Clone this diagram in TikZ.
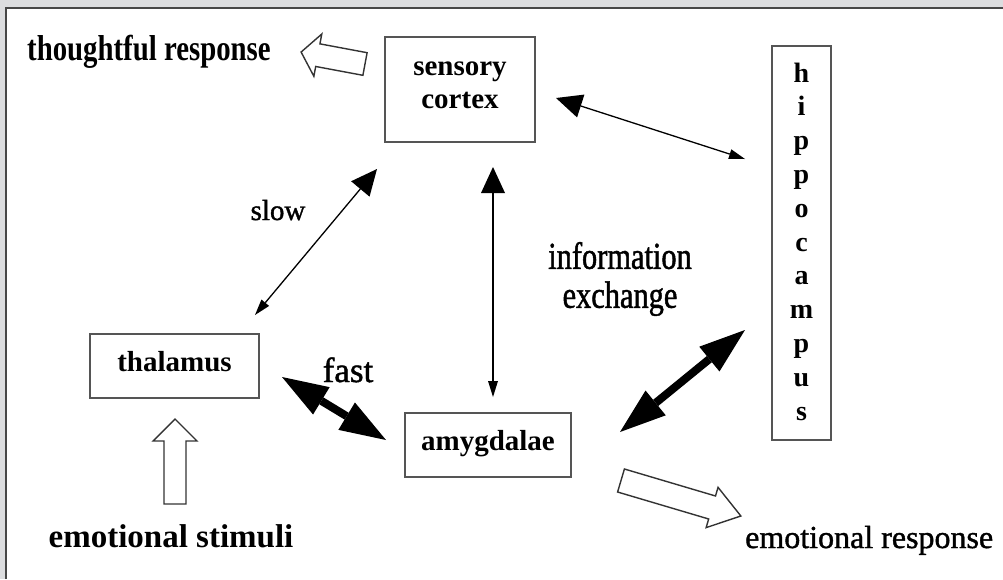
\documentclass[tikz,border=0pt]{standalone}
\usepackage{fontspec}
\setmainfont{Liberation Serif}
\newfontfamily\condserif[FakeStretch=0.8]{Liberation Serif}
\newfontfamily\heavyserif[FakeBold=1.2]{Liberation Serif}
\newfontfamily\heavycond[FakeStretch=0.8,FakeBold=1.2]{Liberation Serif}
\usetikzlibrary{arrows.meta}

\definecolor{framegray}{HTML}{DCDDDF}
\definecolor{frameline}{HTML}{474747}
\definecolor{boxline}{HTML}{555555}

\tikzset{
  box/.style={draw=boxline, line width=1.6pt, align=center, text depth=9pt,
    font=\bfseries\fontsize{29}{33}\selectfont},
  letter/.style={anchor=base, inner sep=0pt, font=\bfseries\fontsize{28}{30}\selectfont},
  tag/.style={inner sep=0pt, anchor=base},
  thinlink/.style={line width=1.3pt,
    {Triangle[length=16pt,width=10pt,line width=0pt]}-{Triangle[length=26pt,width=24pt,line width=0pt]}},
  boldlink/.style={line width=8pt,
    {Triangle[length=46pt,width=32pt,line width=0pt]}-{Triangle[length=46pt,width=32pt,line width=0pt]}},
  hollow/.style={draw=black!80, fill=white, line width=1.4pt, line join=miter}
}

% hollow block arrow: tail, angle, length, head length, head half width, shaft half width
\newcommand{\blockarrow}[6]{
  \begin{scope}[shift={#1}, rotate=#2]
    \draw[hollow] (0,-#6) -- ({#3-#4},-#6) -- ({#3-#4},-#5) -- (#3,0)
      -- ({#3-#4},#5) -- ({#3-#4},#6) -- (0,#6) -- cycle;
  \end{scope}
}

\begin{document}
\begin{tikzpicture}[x=1pt, y=-1pt]
  \useasboundingbox (0,0) rectangle (1003,579);
  % frame
  \fill[framegray] (0,0) rectangle (1003,579);
  \fill[white] (6,7.5) rectangle (1003,579);
  \draw[frameline, line width=2pt] (6,579) -- (6,7.5) -- (1003,7.5);

  % boxes
  \node[box, minimum width=150pt, minimum height=105pt] (cortex) at (460,89.5) {sensory\\cortex};
  \node[box, minimum width=169pt, minimum height=64pt] (thalamus) at (174.5,366) {thalamus};
  \node[box, minimum width=166pt, minimum height=64pt] (amygdalae) at (488,445) {amygdalae};
  \node[box, minimum width=59pt, minimum height=394pt] (hippocampus) at (801.5,243) {};
  \foreach \ch [count=\i] in {h,i,p,p,o,c,a,m,p,u,s}
    \node[letter] (hippo\i) at (801.5,{82+33.8*(\i-1)}) {\ch};

  % labels
  \node[tag, anchor=base west, font=\condserif\bfseries\fontsize{36}{40}\selectfont] (thoughtful) at (27,60) {thoughtful response};
  \node[tag, font=\bfseries\fontsize{33}{36}\selectfont] (stimuli) at (171,547) {emotional stimuli};
  \node[tag, anchor=base west, font=\heavyserif\fontsize{32}{36}\selectfont] (response) at (745,548) {emotional response};
  \node[tag, font=\heavyserif\fontsize{29}{32}\selectfont] (slow) at (278,220) {slow};
  \node[tag, font=\heavyserif\fontsize{35}{38}\selectfont] (fast) at (348,382) {fast};
  \node[inner sep=0pt, align=center, font=\heavycond\fontsize{38}{39}\selectfont] (exchange) at (620,279) {information\\exchange};

  % arrow ends
  \coordinate (cortexE) at (556,98);
  \coordinate (hippoN) at (745,159);
  \coordinate (slowT) at (377,169);
  \coordinate (slowB) at (255,315);
  \coordinate (vertT) at (493,167);
  \coordinate (vertB) at (493,397);
  \coordinate (fastA) at (282,377);
  \coordinate (fastB) at (386,440);
  \coordinate (amygE) at (620,432);
  \coordinate (hippoS) at (745,330);

  % links
  \draw[thinlink] (hippoN) -- (cortexE);
  \draw[thinlink] (slowB) -- (slowT);
  \draw[thinlink] (vertB) -- (vertT);
  \draw[boldlink] (fastA) -- (fastB);
  \draw[boldlink] (amygE) -- (hippoS);

  % hollow arrows
  \blockarrow{(365,64)}{169.4}{65}{17}{21.5}{11.5}
  \blockarrow{(175,504)}{90}{85}{22}{22}{11}
  \blockarrow{(621,480.5)}{-16.5}{125}{30}{21}{12}
\end{tikzpicture}
\end{document}
